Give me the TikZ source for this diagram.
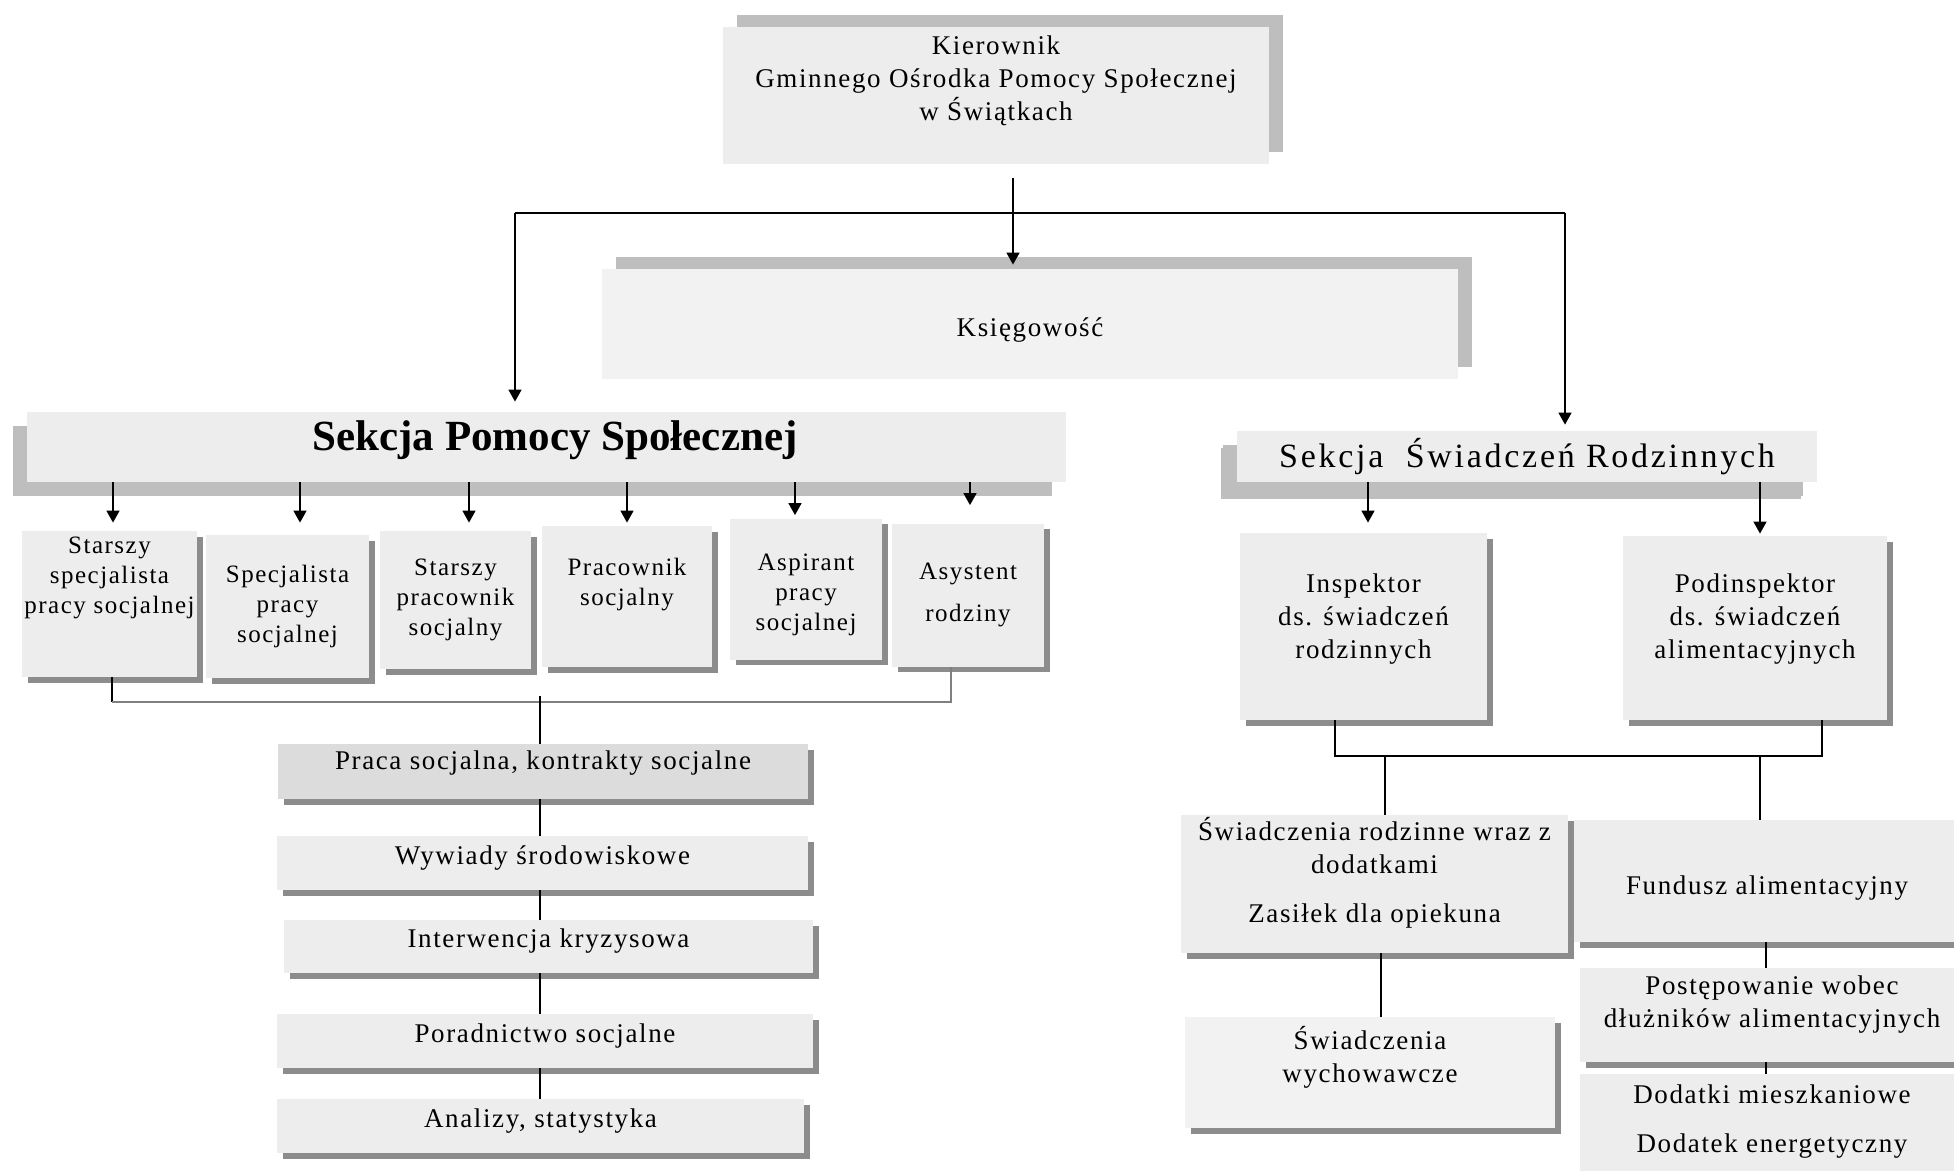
\documentclass[tikz,border=0pt]{standalone}
\usepackage{fontspec}
\setmainfont{Liberation Serif}[LetterSpace=6]
\usetikzlibrary{shadows,arrows.meta}

\definecolor{boxfill}{HTML}{EDEDED}
\definecolor{boxlight}{HTML}{F2F2F2}
\definecolor{boxdark}{HTML}{DCDCDC}
\definecolor{shlight}{HTML}{BEBEBE}
\definecolor{shdark}{HTML}{8C8C8C}

\newcommand\txtnormal{\fontsize{13.5}{16.5}\selectfont}
\newcommand\txtsmall{\fontsize{12.5}{15}\selectfont}
\newcommand\txtsekcja{\fontsize{21.5}{24}\selectfont\bfseries\addfontfeatures{LetterSpace=0}}
\newcommand\txtswiad{\fontsize{17}{20}\selectfont\addfontfeatures{LetterSpace=8}}

\begin{document}
\begin{tikzpicture}[x=0.5pt, y=-0.5pt,
    box/.style={fill=boxfill, inner sep=0pt, align=center, font=\txtnormal},
    lbl/.style={inner sep=0pt, align=center, font=\txtnormal},
    shbr/.style={drop shadow={shadow xshift=2.75pt, shadow yshift=-2.75pt, fill=shdark, opacity=1}},
    shtr/.style={drop shadow={shadow xshift=7pt, shadow yshift=6pt, fill=shlight, opacity=1}},
    shbl/.style={drop shadow={shadow xshift=-7pt, shadow yshift=-7pt, fill=shlight, opacity=1}},
    arr/.style={-{Triangle[length=6pt,width=6.5pt]}, line width=0.75pt},
    conn/.style={line width=0.75pt}]
  \useasboundingbox (0,0) rectangle (1954,1171);

  % kierownik i ksiegowosc
  \node[box, shtr, minimum width=273pt, minimum height=68.5pt] (kier) at (996,95.5) {};
  \node[lbl] (kier-t) at (996,80.5) {Kierownik\\Gminnego Ośrodka Pomocy Społecznej\\w Świątkach};
  \node[box, shtr, fill=boxlight, minimum width=428pt, minimum height=55pt] (ksieg) at (1030,324) {};
  \node[lbl] (ksieg-t) at (1030,330) {Księgowość};

  % sekcje
  \node[box, shbl, minimum width=519.5pt, minimum height=35pt] (sps) at (546.5,447) {};
  \node[lbl, font=\txtsekcja] (sps-t) at (555,440) {Sekcja Pomocy Społecznej};
  \node[box, shbl, drop shadow={shadow xshift=-8pt, shadow yshift=-8.5pt, fill=shlight, opacity=1},
        minimum width=290pt, minimum height=25.5pt, font=\txtswiad] (ssr) at (1527,456.5) {Sekcja\ \ Świadczeń Rodzinnych};

  \coordinate (jn) at (1013,213);
  \coordinate (jl) at (515,213);
  \coordinate (jr) at (1565,213);
  \draw[arr, shorten <=7pt, shorten >=2pt] (kier.south -| jn) -- (ksieg.north -| jn);
  \draw[conn] (jl) -- (jr);
  \draw[arr, shorten >=5pt] (jl) -- (jl |- sps.north);
  \draw[arr, shorten >=3pt] (jr) -- (jr |- ssr.north);

  % stanowiska w sekcji pomocy spolecznej
  \node[box, shbr, minimum width=87.5pt, minimum height=73pt] (b1) at (109.5,604) {};
  \node[lbl, font=\txtsmall] (b1-t) at (109.5,578) {Starszy\\specjalista\\pracy socjalnej};
  \node[box, shbr, minimum width=81.5pt, minimum height=71.5pt, font=\txtsmall] (b2) at (287.5,606.5) {Specjalista\\pracy\\socjalnej};
  \node[box, shbr, minimum width=75.5pt, minimum height=69pt, font=\txtsmall] (b3) at (455.5,600) {Starszy\\pracownik\\socjalny};
  \node[box, shbr, minimum width=85pt, minimum height=70.5pt] (b4) at (627,596.5) {};
  \node[lbl, font=\txtsmall] (b4-t) at (627,585) {Pracownik\\socjalny};
  \node[box, shbr, minimum width=76pt, minimum height=70.5pt] (b5) at (806,589) {};
  \node[lbl, font=\txtsmall] (b5-t) at (806,595) {Aspirant\\pracy\\socjalnej};
  \node[box, shbr, minimum width=76pt, minimum height=71.5pt, font=\txtsmall] (b6) at (968,595) {Asystent\\[6pt]rodziny};

  \foreach \n/\x/\g in {b1/113/4pt, b2/300/6pt, b3/469/4pt, b4/627/1.5pt, b5/795/1.5pt, b6/970/9pt}
    \draw[arr, shorten >=\g] (\x,0 |- sps.south) -- (\x,0 |- \n.north);

  \coordinate (lb) at (112,702);
  \coordinate (rb) at (951,702);
  \coordinate (mb) at (540,702);
  \draw[conn] (b1.south -| lb) -- (lb);
  \draw[conn, draw=black!50] (lb) -- (rb) -- (b6.south -| rb);

  % zadania sekcji pomocy spolecznej
  \node[box, shbr, fill=boxdark, minimum width=265pt, minimum height=27.5pt] (c1) at (543,771.5) {};
  \node[lbl] (c1-t) at (543,763) {Praca socjalna, kontrakty socjalne};
  \node[box, shbr, minimum width=265.5pt, minimum height=27pt] (c2) at (542.5,863) {};
  \node[lbl] (c2-t) at (542.5,858) {Wywiady środowiskowe};
  \node[box, shbr, minimum width=264.5pt, minimum height=26.5pt] (c3) at (548.5,946.5) {};
  \node[lbl] (c3-t) at (548.5,941) {Interwencja kryzysowa};
  \node[box, shbr, minimum width=268pt, minimum height=27pt] (c4) at (545,1041) {};
  \node[lbl] (c4-t) at (545,1036) {Poradnictwo socjalne};
  \node[box, shbr, minimum width=263.5pt, minimum height=27pt] (c5) at (540.5,1126) {};
  \node[lbl] (c5-t) at (540.5,1121) {Analizy, statystyka};

  \draw[conn] ([yshift=3pt]mb) -- (mb |- c1.north);
  \foreach \a/\b in {c1/c2, c2/c3, c3/c4, c4/c5}
    \draw[conn] (\a.south -| mb) -- (\b.north -| mb);

  % sekcja swiadczen rodzinnych
  \node[box, shbr, minimum width=123.5pt, minimum height=93.5pt] (insp) at (1363.5,626.5) {};
  \node[lbl] (insp-t) at (1363.5,619) {Inspektor\\ds. świadczeń\\rodzinnych};
  \node[box, shbr, minimum width=132pt, minimum height=92pt] (podi) at (1755,628) {};
  \node[lbl] (podi-t) at (1755,619) {Podinspektor\\ds. świadczeń\\alimentacyjnych};

  \draw[arr, shorten >=5pt] (1368,0 |- ssr.south) -- (1368,0 |- insp.north);
  \draw[arr, shorten >=1pt] (1760,0 |- ssr.south) -- (1760,0 |- podi.north);

  \coordinate (rl) at (1335,756);
  \coordinate (rr) at (1822,756);
  \coordinate (d1) at (1385,756);
  \coordinate (d2) at (1760,756);
  \draw[conn] (insp.south -| rl) -- (rl) -- (rr) -- (podi.south -| rr);

  \node[box, shbr, minimum width=193.5pt, minimum height=69pt] (swr) at (1374.5,884) {};
  \node[lbl] (swr-t) at (1374.5,873) {Świadczenia rodzinne wraz z\\dodatkami\\[8pt]Zasiłek dla opiekuna};
  \node[box, shbr, minimum width=195pt, minimum height=61pt] (fund) at (1769,881) {};
  \node[lbl] (fund-t) at (1767,888) {Fundusz alimentacyjny};
  \node[box, shbr, fill=boxlight, minimum width=185pt, minimum height=55.5pt] (swy) at (1370,1072.5) {};
  \node[lbl] (swy-t) at (1370,1057.5) {Świadczenia\\wychowawcze};
  \node[box, shbr, minimum width=192pt, minimum height=47pt] (post) at (1772,1015) {};
  \node[lbl] (post-t) at (1772,1005) {Postępowanie wobec\\dłużników alimentacyjnych};
  \node[box, minimum width=192pt, minimum height=53pt] (dod) at (1772,1127) {};
  \node[lbl] (dod-t) at (1772,1122) {Dodatki mieszkaniowe\\[8pt]Dodatek energetyczny};

  \draw[conn] (d1) -- (d1 |- swr.north);
  \draw[conn] (d2) -- (d2 |- fund.north);
  \draw[conn] (swr.south -| 1381,0) -- (swy.north -| 1381,0);
  \draw[conn] (fund.south -| 1766,0) -- (post.north -| 1766,0);
  \draw[conn] (post.south -| 1766,0) -- (dod.north -| 1766,0);
\end{tikzpicture}
\end{document}
